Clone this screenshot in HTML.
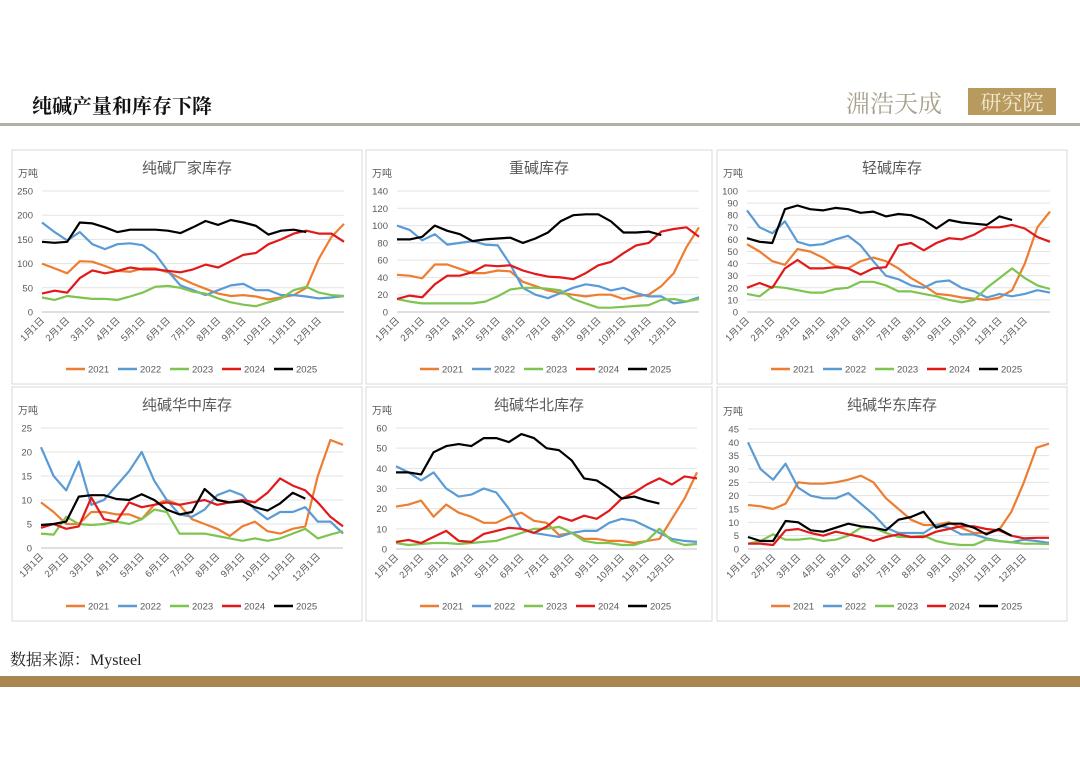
<!DOCTYPE html>
<html><head><meta charset="utf-8">
<style>
html,body{margin:0;padding:0;background:#fff;}
body{width:1080px;height:764px;overflow:hidden;font-family:"Liberation Sans","Noto Sans CJK SC",sans-serif;}
svg text{font-family:"Liberation Sans","Noto Sans CJK SC",sans-serif;}
</style></head>
<body>
<svg id="page" width="1080" height="764" viewBox="0 0 1080 764" xmlns="http://www.w3.org/2000/svg">
  <rect x="0" y="0" width="1080" height="764" fill="#ffffff"/>
  <text x="32" y="113" font-size="20" font-weight="bold" fill="#111" style="font-family:'Liberation Serif','Noto Serif CJK SC',serif">纯碱产量和库存下降</text>
  <text x="846" y="112" font-size="24" fill="#a8a08c" style="font-family:'Liberation Serif','Noto Serif CJK SC',serif">淵浩天成</text>
  <rect x="968" y="88" width="88" height="27" fill="#b89a5e"/>
  <text x="1012" y="110" font-size="21" fill="#f3ead6" text-anchor="middle" style="font-family:'Liberation Serif','Noto Serif CJK SC',serif">研究院</text>
  <rect x="0" y="123" width="1080" height="3" fill="#b3b0a6"/>
  <text x="10" y="665" font-size="16" fill="#222" style="font-family:'Liberation Serif','Noto Serif CJK SC',serif">数据来源：Mysteel</text>
  <rect x="0" y="676" width="1080" height="11" fill="#a98552"/>
  <g id="charts"></g>
</svg>
<script>
const years = ["2021","2022","2023","2024","2025"];
const colors = ["#ED7D31","#5B9BD5","#7DC450","#E0191B","#000000"];
const months = ["1月1日","2月1日","3月1日","4月1日","5月1日","6月1日","7月1日","8月1日","9月1日","10月1日","11月1日","12月1日"];

const p1Ticks = [0,50,100,150,200,250];
const p1_2021 = [100,90,80,105,104,95,85,83,90,90,82,70,58,48,38,33,35,32,26,30,35,50,110,155,182];
const p1_2022 = [185,165,148,165,140,130,140,142,138,120,85,55,45,35,45,55,58,45,45,35,35,32,28,30,33];
const p1_2023 = [30,25,33,30,27,27,25,32,40,52,54,50,42,38,28,20,15,12,20,28,45,52,40,35,33];
const p1_2024 = [38,44,40,70,86,80,85,92,88,88,85,82,88,98,92,105,118,122,140,150,162,168,162,162,145];
const p1_2025 = [145,143,145,185,183,175,165,170,170,170,168,163,175,188,180,190,185,178,160,168,170,165];

const p2Ticks = [0,20,40,60,80,100,120,140];
const p2_2021 = [43,42,39,55,55,50,45,45,48,47,35,30,25,22,20,18,20,20,15,18,20,30,45,75,98];
const p2_2022 = [100,95,83,90,78,80,82,78,77,55,28,20,16,22,28,32,30,25,28,22,18,18,10,12,17];
const p2_2023 = [15,12,10,10,10,10,10,12,18,26,28,28,27,25,15,10,5,5,6,7,8,14,15,12,15];
const p2_2024 = [15,19,17,32,42,42,46,54,53,54,48,44,41,40,38,45,54,58,68,77,80,93,96,98,87];
const p2_2025 = [84,84,87,100,94,90,82,84,85,86,80,85,92,105,112,113,113,105,92,92,93,89];

const p3Ticks = [0,10,20,30,40,50,60,70,80,90,100];
const p3_2021 = [56,50,42,39,52,50,45,38,36,42,45,42,36,28,22,15,14,12,11,10,12,18,40,70,83];
const p3_2022 = [84,70,65,75,58,55,56,60,63,55,42,30,27,22,20,25,26,20,17,12,15,13,15,18,16];
const p3_2023 = [15,13,21,20,18,16,16,19,20,25,25,22,17,17,15,13,10,8,10,20,28,36,28,22,19];
const p3_2024 = [20,24,20,36,43,36,36,37,36,31,36,37,55,57,51,57,61,60,64,70,70,72,69,62,58];
const p3_2025 = [61,58,57,85,88,85,84,86,85,82,83,79,81,80,76,69,76,74,73,72,79,76];

const p4Ticks = [0,5,10,15,20,25];
const p4_2021 = [9.5,7.5,5,5,7.5,7.5,7,7,6,9,10,9,6,5,4,2.5,4.5,5.5,3.5,3,4,4.5,15,22.5,21.5];
const p4_2022 = [21,15,12,18,9,10,13,16,20,14,10,7,6.5,8,11,12,11,8,6,7.5,7.5,8.5,5.5,5.5,3];
const p4_2023 = [3,2.8,6.5,5,4.8,5,5.5,5,6,8,7.5,3,3,3,2.5,2,1.5,2,1.5,2,3,4,2,2.8,3.5];
const p4_2024 = [4.2,5,4,4.5,10.5,6,5.5,9.5,8.5,9,9.5,9,9.5,10,9,9.5,10,9.5,11.5,14.5,13,12,9.5,6.5,4.5];
const p4_2025 = [4.8,5,5.5,10.7,11,11,10.2,10,11.2,10,8,7,7.5,12.3,10,9.5,9.7,8.5,7.8,9.3,11.5,10.3];

const p5Ticks = [0,10,20,30,40,50,60];
const p5_2021 = [21,22,24,16,22,18,16,13,13,16,18,14,13,7,8,5,5,4,4,3,4,5,15,25,38];
const p5_2022 = [41,38,34,38,30,26,27,30,28,20,10,8,7,6,8,9,9,13,15,14,11,8,5,4,3.5];
const p5_2023 = [3,2,2.5,3,3,2.5,3,3.5,4,6,8,10,10,11,8,4,3,3,2,2,4,10,4,2,2.5];
const p5_2024 = [3.5,4.5,3,6,9,4,3.5,7.5,9,10.5,10,8,11,16,14,16.5,15,19,25,28,32,35,32,36,35];
const p5_2025 = [38,38,37,48,51,52,51,55,55,53,57,55,50,49,44,35,34,30,25,26,24,22.5];

const p6Ticks = [0,5,10,15,20,25,30,35,40,45];
const p6_2021 = [16.5,16,15,17,25,24.5,24.5,25,26,27.5,25,19,15,11,9,9,10,8,6,6,7,14,25,38,39.5];
const p6_2022 = [40,30,26,32,23,20,19,19,21,17,13,8,6,6,6,9,8,5.5,5.5,4,3,2.5,3.5,3,2.3];
const p6_2023 = [2,3,5.5,3.5,3.5,4,3,3.5,5,8,8,6,4.5,4.5,5,3,2,1.5,1.5,3.5,3,2.5,2,2,1.8];
const p6_2024 = [2,2,1.5,7,7.5,6,5,6.5,5.5,4.5,3,4.5,5.5,4.5,4.5,6.5,7.5,8.5,8.5,7.5,7,5,4,4.2,4.2];
const p6_2025 = [4.5,3,3,10.5,10,7,6.5,8,9.5,8.5,8,7,11,12,14,8,9.5,9.5,8,5.5,7.5,5];

const NS = "http://www.w3.org/2000/svg";
const root = document.getElementById("charts");
function mk(tag, attrs, parent){const e=document.createElementNS(NS,tag);for(const k in attrs)e.setAttribute(k,attrs[k]);parent.appendChild(e);return e;}

function drawPanel(cfg){
  const g = mk("g",{},root);
  
  
  const box = mk("rect",{x:cfg.bx,y:cfg.by,width:cfg.bw,height:cfg.bh,fill:"#fff",stroke:"#d9d9d9","stroke-width":1},g);
  
  
  const maxV = cfg.ticks[cfg.ticks.length-1];
  const xs = i => cfg.x0 + (cfg.x1-cfg.x0)*i/24;
  const ys = v => cfg.yb - (cfg.yb-cfg.yt)*v/maxV;
  const t = mk("text",{x:cfg.bx+cfg.bw/2,y:cfg.by+23,"font-size":15,fill:"#595959","text-anchor":"middle"},g);
  t.textContent = cfg.title;
  
  
  const u = mk("text",{x:cfg.bx+6,y:cfg.yt-14,"font-size":10,fill:"#595959"},g);
  u.textContent = "万吨";
  
  
  cfg.ticks.forEach(v=>{
    const gl = mk("line",{x1:cfg.x0,x2:cfg.x1,y1:ys(v),y2:ys(v),stroke:v===0?"#bfbfbf":"#e3e3e3","stroke-width":1},g);
    
    
    const tl = mk("text",{x:cfg.x0-9,y:ys(v)+3.5,"font-size":9.5,fill:"#595959","text-anchor":"end"},g);
    tl.textContent = v;
    
    
  });
  months.forEach((m,i)=>{
    const x = xs(i*2);
    const ml = mk("text",{x:x+3,y:cfg.yb+9,"font-size":9.5,fill:"#595959","text-anchor":"end",transform:`rotate(-45 ${x+3} ${cfg.yb+9})`},g);
    ml.textContent = m;
    
    
  });
  cfg.series.forEach((arr,si)=>{
    const d = arr.map((v,i)=>(i?"L":"M")+xs(i).toFixed(1)+" "+ys(v).toFixed(1)).join(" ");
    const p = mk("path",{d:d,fill:"none",stroke:colors[si],"stroke-width":2.2,"stroke-linejoin":"round"},g);
    
    
  });
  const ly = cfg.by + cfg.bh - 15;
  const lx0 = cfg.bx + 54;
  years.forEach((y,i)=>{
    const lg = mk("g",{},g);
    
    
    mk("line",{x1:lx0+i*52,x2:lx0+i*52+19,y1:ly,y2:ly,stroke:colors[i],"stroke-width":2.5},lg);
    const lt = mk("text",{x:lx0+i*52+22,y:ly+3.5,"font-size":9.5,fill:"#595959"},lg);
    lt.textContent = y;
  });
}

drawPanel({key:"plant-inventory",title:"纯碱厂家库存",bx:12,by:150,bw:350,bh:234,x0:42,x1:344,yt:191,yb:312,ticks:p1Ticks,series:[p1_2021,p1_2022,p1_2023,p1_2024,p1_2025]});
drawPanel({key:"heavy-ash",title:"重碱库存",bx:366,by:150,bw:346,bh:234,x0:397,x1:699,yt:191,yb:312,ticks:p2Ticks,series:[p2_2021,p2_2022,p2_2023,p2_2024,p2_2025]});
drawPanel({key:"light-ash",title:"轻碱库存",bx:717,by:150,bw:350,bh:234,x0:747,x1:1050,yt:191,yb:312,ticks:p3Ticks,series:[p3_2021,p3_2022,p3_2023,p3_2024,p3_2025]});
drawPanel({key:"central-china",title:"纯碱华中库存",bx:12,by:387,bw:350,bh:234,x0:41,x1:343,yt:428,yb:548,ticks:p4Ticks,series:[p4_2021,p4_2022,p4_2023,p4_2024,p4_2025]});
drawPanel({key:"north-china",title:"纯碱华北库存",bx:366,by:387,bw:346,bh:234,x0:396,x1:697,yt:428,yb:549,ticks:p5Ticks,series:[p5_2021,p5_2022,p5_2023,p5_2024,p5_2025]});
drawPanel({key:"east-china",title:"纯碱华东库存",bx:717,by:387,bw:350,bh:234,x0:748,x1:1049,yt:429,yb:549,ticks:p6Ticks,series:[p6_2021,p6_2022,p6_2023,p6_2024,p6_2025]});
</script>
</body></html>
